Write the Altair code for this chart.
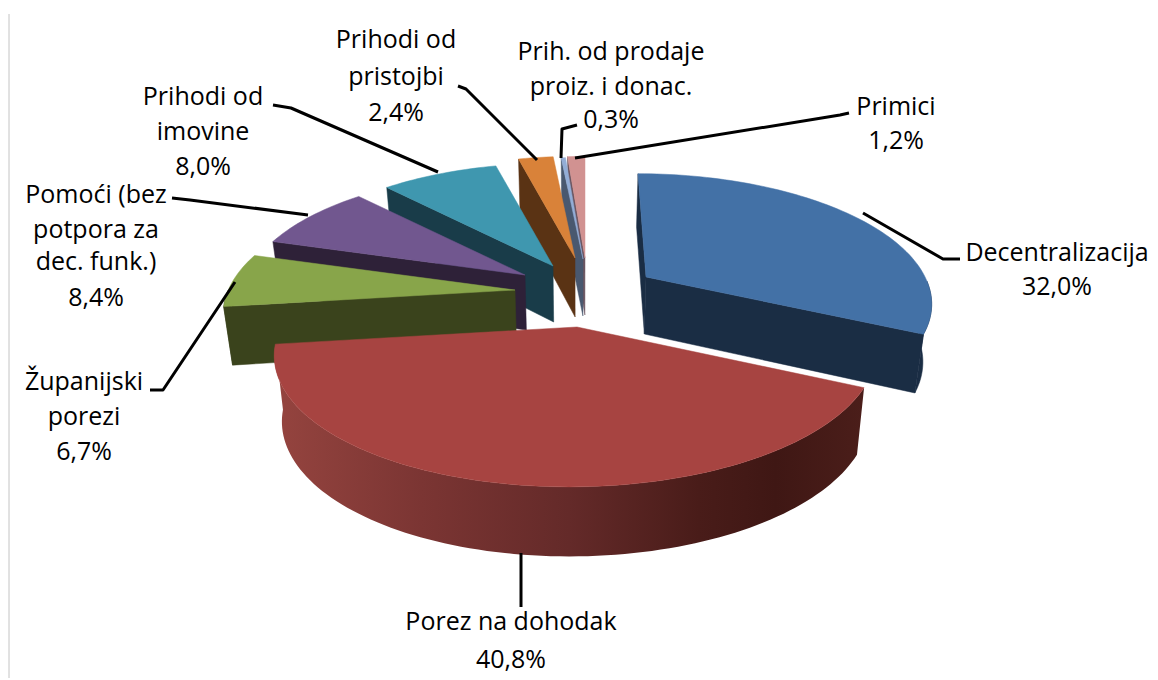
import math
import altair as alt

# ---- values ----
names = ["Decentralizacija", "Porez na dohodak", "Županijski porezi", "Pomoći", "Prihodi od imovine",
         "Prihodi od pristojbi", "Prih. od prodaje", "Primici"]
shares = [32.0, 40.8, 6.7, 8.4, 8.0, 2.4, 0.3, 1.2]
label_lines = [
    ["Decentralizacija"], ["Porez na dohodak"], ["Županijski", "porezi"],
    ["Pomoći (bez", "potpora za", "dec. funk.)"], ["Prihodi od", "imovine"],
    ["Prihodi od", "pristojbi"], ["Prih. od prodaje", "proiz. i donac."], ["Primici"],
]
top_colors = ["#4371a6", "#a74441", "#88a54a", "#71578f", "#3f97af", "#d98239", "#93add6", "#d19291"]
side_colors = ["#1a2d44", "#4a1d19", "#3a431c", "#2e2138", "#193c49", "#5a3314", "#49586f", "#6b5560"]

# ---- layout of the tilted, exploded pie (page pixels) ----
A, B, K, XC = 305.0, 134.0, 0.187, 580.0
apex = [(646, 277), (577, 327), (515, 290), (525, 275), (553, 266), (575, 258), (583, 259), (585, 258)]
radius = [0.915, 0.97, 0.94, 0.91, 0.91, 0.90, 0.90, 0.90]
depth = [57, 65, 58, 55, 56, 59, 57, 57]
lean = [-8, 8, 0, 0, 0, 0, 0, 0]
paint_order = [7, 6, 5, 4, 3, 2, 0, 1]
label_xy = [
    (1057, [253], 287), (511, [622], 660), (84, [382, 417], 452), (96, [195, 230, 262], 298),
    (203, [97, 132], 167), (396, [40, 77], 113), (611, [52, 87], 120), (896, [107], 141),
]
leaders = [
    [(863, 213), (943, 259), (960, 259)],
    [(521, 553), (521, 607)],
    [(235, 282), (163, 390), (150, 390)],
    [(308, 215), (190, 200), (172, 198)],
    [(438, 172), (291, 108), (273, 105)],
    [(537, 160), (466, 89), (458, 86)],
    [(561, 158), (562, 129), (577, 125)],
    [(575, 158), (840, 115), (849, 113)],
]


def rim(i, deg):
    t = math.radians(deg)
    u, v = math.sin(t), math.cos(t)
    s = 1 + K * v
    ax, ay = apex[i]
    return (ax + radius[i] * A * u / s + lean[i] * v, ay - radius[i] * B * v / s, v)


def drop(i, p):
    x, y, v = p
    return (x + (XC - x) * 0.025, y + depth[i] * (1 - 0.07 * v))


def feature(points, fill):
    pts = [[round(x, 2), round(y, 2)] for x, y in points]
    pts.append(pts[0])
    return {"type": "Feature", "properties": {"fill": fill},
            "geometry": {"type": "Polygon", "coordinates": [pts]}}


def line_feature(points):
    return {"type": "Feature", "properties": {},
            "geometry": {"type": "LineString", "coordinates": [list(p) for p in points]}}


total = sum(shares)
starts, cum = [], 0.0
for s in shares:
    starts.append(cum * 360 / total)
    cum += s
ends = [st + s * 360 / total for st, s in zip(starts, shares)]

back, porez_wall, porez_top = [], [], []
for i in paint_order:
    a0, a1 = starts[i], ends[i]
    n = max(4, int((a1 - a0) / 1.5))
    arc = [rim(i, a0 + (a1 - a0) * j / n) for j in range(n + 1)]
    ap = (apex[i][0], apex[i][1], 0.0)
    # outer wall
    lo, hi = max(a0, 92), min(a1, 270)
    wall = None
    if hi > lo:
        m = max(4, int((hi - lo) / 1.5))
        w = [rim(i, lo + (hi - lo) * j / m) for j in range(m + 1)]
        wall = feature([p[:2] for p in w] + [drop(i, p) for p in reversed(w)], side_colors[i])
    if i == 1:
        porez_wall.append(wall)
    elif wall:
        back.append(wall)
    # cut faces
    if math.sin(math.radians(a0)) <= 1e-9:
        p = arc[0]
        back.append(feature([ap[:2], p[:2], drop(i, p), drop(i, ap)], side_colors[i]))
    if i != 1 and math.sin(math.radians(a1)) > 0:
        p = arc[-1]
        back.append(feature([ap[:2], p[:2], drop(i, p), drop(i, ap)], side_colors[i]))
    top = feature([ap[:2]] + [p[:2] for p in arc], top_colors[i])
    (porez_top if i == 1 else back).append(top)

proj = dict(type="identity", scale=1, translate=[-8, -8])


def shapes(features):
    return alt.Chart(alt.Data(values=features))


base = shapes(back).mark_geoshape(strokeWidth=0.5).encode(
    fill=alt.Fill("properties.fill:N", scale=None),
    stroke=alt.Stroke("properties.fill:N", scale=None),
).project(**proj)

wall_grad = alt.Gradient(
    gradient="linear", x1=0, x2=1, y1=0, y2=0,
    stops=[
        alt.GradientStop(offset=0.0, color="#95443f"),
        alt.GradientStop(offset=0.25, color="#7b3533"),
        alt.GradientStop(offset=0.5, color="#642a29"),
        alt.GradientStop(offset=0.72, color="#491c19"),
        alt.GradientStop(offset=0.85, color="#3f1714"),
        alt.GradientStop(offset=1.0, color="#4b1e1a"),
    ],
)
wall_layer = shapes(porez_wall).mark_geoshape(fill=wall_grad, stroke="transparent", strokeWidth=0).project(**proj)
top_layer = shapes(porez_top).mark_geoshape(fill=top_colors[1], stroke=top_colors[1], strokeWidth=0.5).project(**proj)

lead_layer = shapes([line_feature(l) for l in leaders]).mark_geoshape(
    filled=False, stroke="#000000", strokeWidth=3, strokeJoin="round"
).project(**proj)

rows = []
for i, (cx, ys, pct_y) in enumerate(label_xy):
    for line, y in zip(label_lines[i], ys):
        rows.append({"t": line, "x": cx - 8, "y": y - 8})
    rows.append({"t": f"{shares[i]:.1f}%".replace(".", ","), "x": cx - 8, "y": pct_y - 8})

text_layer = alt.Chart(alt.Data(values=rows)).mark_text(
    font="Open Sans", fontSize=25, color="#000000", align="center", baseline="middle"
).encode(x=alt.X("x:Q", scale=None), y=alt.Y("y:Q", scale=None), text="t:N")

edge = alt.Chart(alt.Data(values=[{"a": 1}])).mark_rule(color="#c4c4c4", strokeWidth=1).encode(
    x=alt.value(1), y=alt.value(6), y2=alt.value(670)
)

chart = alt.layer(edge, base, wall_layer, top_layer, lead_layer, text_layer).properties(
    width=1142, height=670, padding=0, autosize=alt.AutoSizeParams(type="none"), background="#ffffff"
).configure_view(stroke=None)

chart.save("out.html", embed_options={"renderer": "svg", "actions": False})
